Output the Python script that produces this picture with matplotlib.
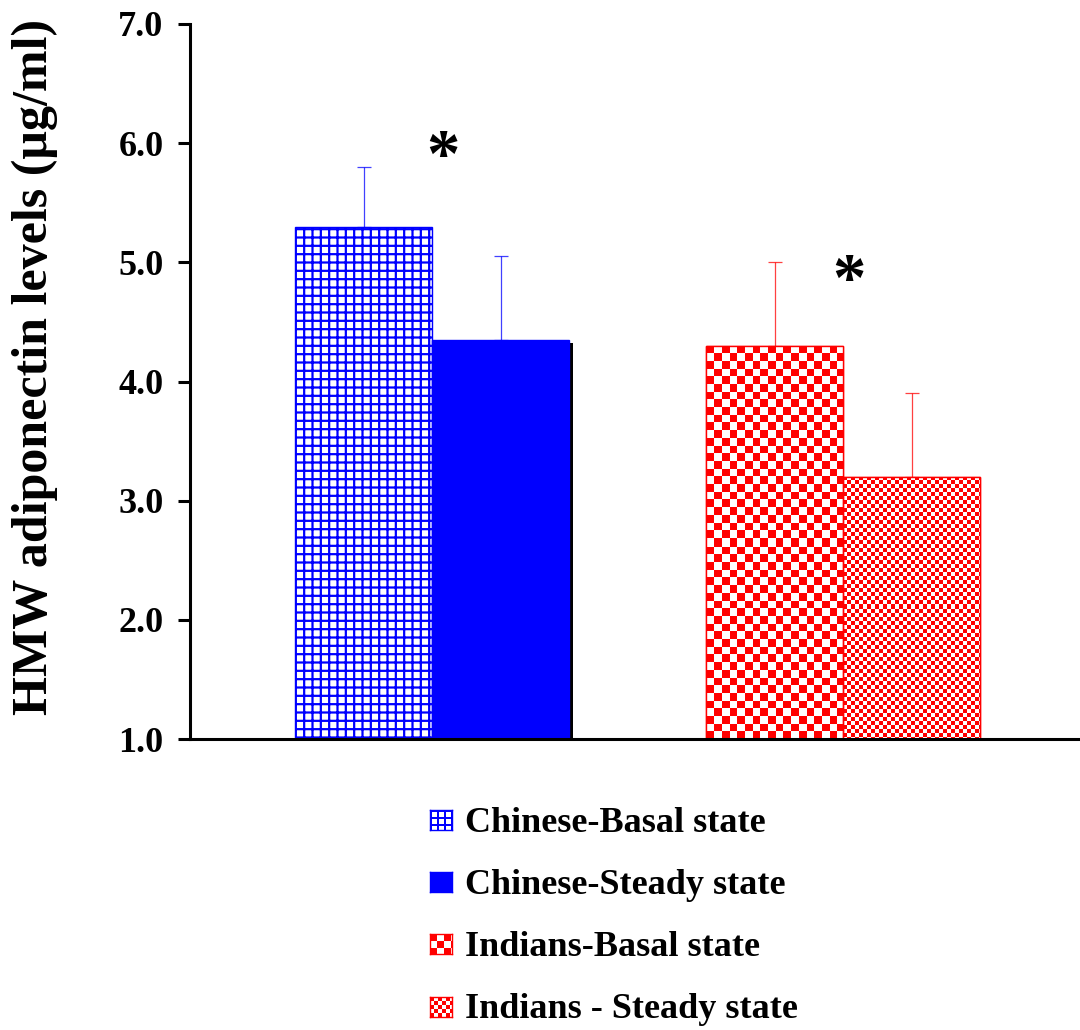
import numpy as np
import matplotlib
matplotlib.use("Agg")
import matplotlib.pyplot as plt
from matplotlib.patches import Rectangle
import matplotlib.patheffects as pe

# HMW adiponectin, mean and upper SD bar
groups = ["Chinese", "Indians"]
basal = [5.3, 4.3]
basal_sd = [0.5, 0.7]
steady = [4.35, 3.2]
steady_sd = [0.7, 0.7]
legend_labels = ["Chinese-Basal state", "Chinese-Steady state",
                 "Indians-Basal state", "Indians - Steady state"]
yticks = [1.0, 2.0, 3.0, 4.0, 5.0, 6.0, 7.0]
# asterisk positions (data coords)
star_x = [1.85, 4.81]
star_y = [5.87, 4.83]

BLUE = "#0000ff"
RED = "#ff0000"
FONT = "Liberation Serif"

plt.rcParams["font.family"] = FONT
plt.rcParams["font.weight"] = "bold"
plt.rcParams["hatch.linewidth"] = 1.6


def pattern(kind, w, h, color):
    """RGB fill for a w x h pixel area."""
    i, j = np.mgrid[0:h, 0:w]
    rgb = np.array(matplotlib.colors.to_rgb(color))
    if kind == "grid":
        p = 7
        on = (i % p < 2) | (j % p < 2)
    elif kind == "check":
        c = 7.7
        on = ((np.floor(i / c) + np.floor(j / c)) % 2) == 0
    elif kind == "fine":
        c = 4.0
        on = ((np.floor(i / c) + np.floor(j / c)) % 2) == 0
    else:
        on = np.ones((h, w), bool)
    img = np.ones((h, w, 3))
    img[on] = rgb
    return img


fig = plt.figure(figsize=(10.8, 10.3), dpi=100)
ax = fig.add_axes([190 / 1080, 1 - 739 / 1030, 890 / 1080, 715 / 1030])
ax.set_xlim(0, 6.5)
ax.set_ylim(1.0, 7.0)

width = 1.0
centers = np.array([1.77, 4.77])
ymin = ax.get_ylim()[0]

series = [
    (centers - 0.5, [basal[0], None], [basal_sd[0], None], "grid", BLUE),
    (centers + 0.5, [steady[0], None], [steady_sd[0], None], "solid", BLUE),
    (centers - 0.5, [None, basal[1]], [None, basal_sd[1]], "check", RED),
    (centers + 0.5, [None, steady[1]], [None, steady_sd[1]], "fine", RED),
]

fig.canvas.draw()
for xs, vals, sds, kind, color in series:
    for x, v, sd in zip(xs, vals, sds):
        if v is None:
            continue
        bars = ax.bar(x, v - ymin, bottom=ymin, width=width, facecolor="white",
                      edgecolor=color, linewidth=1.0, zorder=2)
        bar = bars[0]
        if kind == "solid":
            bar.set_facecolor(color)
            bar.set_path_effects([pe.SimplePatchShadow(offset=(3, -2.5), shadow_rgbFace="k", alpha=1.0),
                                  pe.Normal()])
        elif kind == "grid":
            bar.set_hatch("++")
        else:
            p0 = ax.transData.transform((x - width / 2, ymin))
            p1 = ax.transData.transform((x + width / 2, v))
            wpx, hpx = int(round(p1[0] - p0[0])), int(round(p1[1] - p0[1]))
            im = ax.imshow(pattern(kind, wpx, hpx, color),
                           extent=(x - width / 2, x + width / 2, ymin, v),
                           origin="upper", interpolation="nearest",
                           aspect="auto", zorder=2.1)
            im.set_clip_path(bar)
            edge = Rectangle((x - width / 2, ymin), width, v - ymin, fill=False,
                             edgecolor=color, linewidth=1.0, zorder=2.2)
            ax.add_patch(edge)
        ax.errorbar(x, v, yerr=[[0], [sd]], fmt="none", ecolor=color,
                    elinewidth=0.9, capsize=4.7, capthick=0.9, alpha=0.75, zorder=1.5)

ax.set_xlim(0, 6.5)
ax.set_ylim(1.0, 7.0)

# significance marks
for sx, sy in zip(star_x, star_y):
    ax.text(sx, sy, "*", fontsize=48, fontweight="bold",
            ha="center", va="center", zorder=3)

ax.set_yticks(yticks)
ax.set_yticklabels([f"{t:.1f}" for t in yticks], fontsize=26, fontweight="bold")
ax.set_xticks([])
for s in ["top", "right"]:
    ax.spines[s].set_visible(False)
for s in ["left", "bottom"]:
    ax.spines[s].set_linewidth(2.2)
ax.tick_params(axis="y", direction="out", length=9, width=2.2, pad=10)

fig.text(35 / 1080, 1 - 367 / 1030, "HMW adiponectin levels (μg/ml)",
         rotation=90, ha="center", va="center", fontsize=36, fontweight="bold")

# legend built from small pattern boxes
kinds = ["grid", "solid", "check", "fine"]
colors = [BLUE, BLUE, RED, RED]
ys = [820, 882, 944, 1007]
for lab, kind, col, yc in zip(legend_labels, kinds, colors, ys):
    lax = fig.add_axes([430 / 1080, 1 - (yc + 10) / 1030, 22 / 1080, 20 / 1030])
    if kind == "check":
        i, j = np.mgrid[0:20, 0:22]
        img = np.ones((20, 22, 3))
        img[((i // 7 + j // 7) % 2) == 0] = matplotlib.colors.to_rgb(col)
    else:
        img = pattern(kind, 22, 20, col)
    lax.imshow(img, interpolation="nearest", aspect="auto")
    lax.set_xticks([])
    lax.set_yticks([])
    for sp in lax.spines.values():
        sp.set_edgecolor(col)
        sp.set_linewidth(1.0)
    fig.text(465 / 1080, 1 - (yc + 3) / 1030, lab, ha="left", va="center",
             fontsize=26, fontweight="bold")

fig.savefig("out.png", dpi=100)
